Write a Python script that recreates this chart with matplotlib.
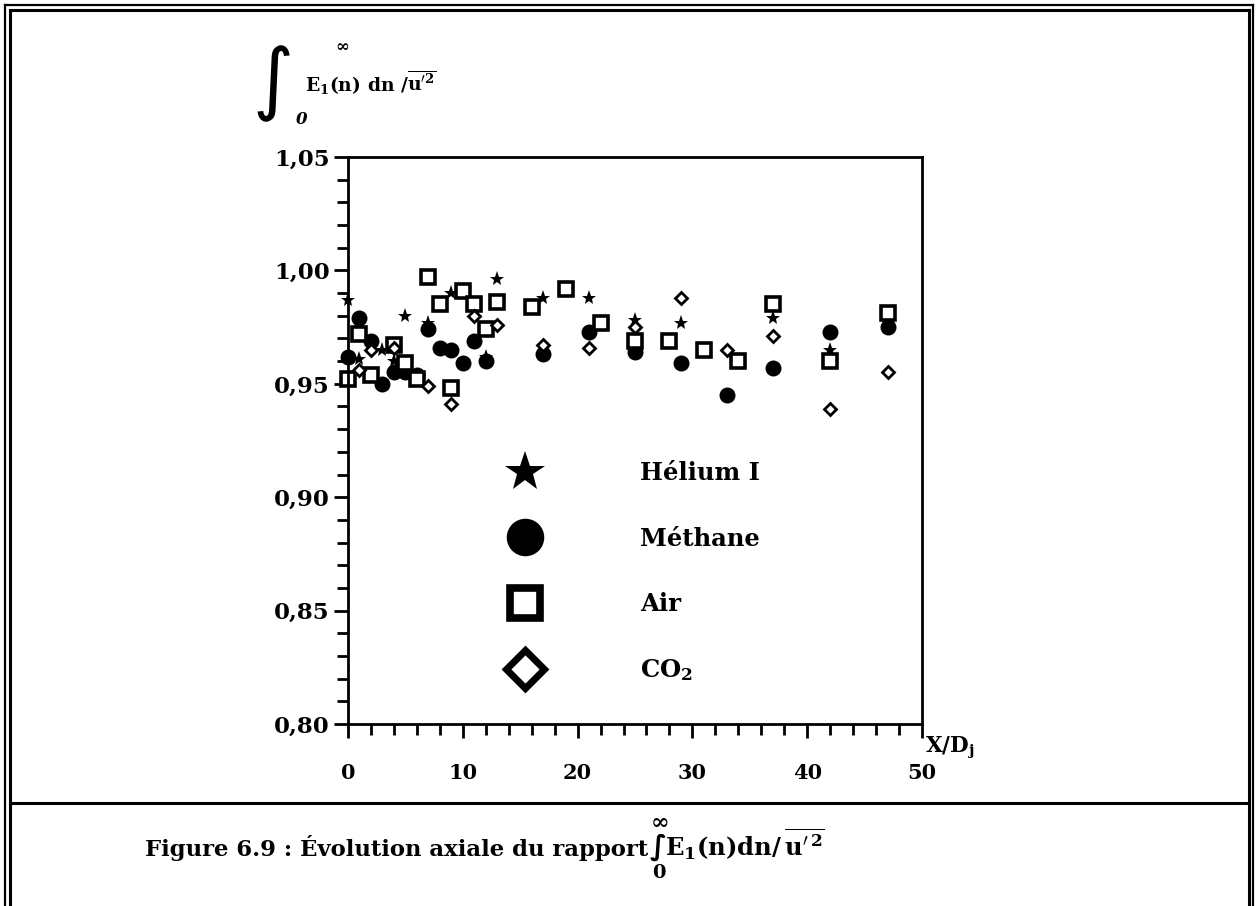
import matplotlib
matplotlib.use("Agg")
import matplotlib.pyplot as plt
from matplotlib.lines import Line2D
from matplotlib.ticker import MultipleLocator, FixedFormatter, FixedLocator

plt.rcParams['font.family'] = ['DejaVu Serif']
plt.rcParams['font.weight'] = 'bold'
plt.rcParams['mathtext.fontset'] = 'dejavuserif'
plt.rcParams['mathtext.default'] = 'bf'

# ---------------- data ----------------
helium_x = [0, 1, 3, 4, 5, 7, 9, 11, 12, 13, 17, 21, 25, 29, 37, 42]
helium_y = [0.987, 0.961, 0.965, 0.960, 0.980, 0.977, 0.990, 0.982, 0.962, 0.996,
            0.988, 0.988, 0.978, 0.977, 0.979, 0.965]

methane_x = [0, 1, 2, 3, 4, 5, 6, 7, 8, 9, 10, 11, 12, 17, 21, 25, 29, 33, 37, 42, 47]
methane_y = [0.962, 0.979, 0.969, 0.950, 0.955, 0.955, 0.954, 0.974, 0.966, 0.965,
             0.959, 0.969, 0.960, 0.963, 0.973, 0.964, 0.959, 0.945, 0.957, 0.973, 0.975]

air_x = [0, 1, 2, 4, 5, 6, 7, 8, 9, 10, 11, 12, 13, 16, 19, 22, 25, 28, 31, 34, 37, 42, 47]
air_y = [0.952, 0.972, 0.954, 0.967, 0.959, 0.952, 0.997, 0.985, 0.948, 0.991, 0.985,
         0.974, 0.986, 0.984, 0.992, 0.977, 0.969, 0.969, 0.965, 0.960, 0.985, 0.960, 0.981]

co2_x = [1, 2, 4, 7, 9, 11, 13, 17, 21, 25, 29, 33, 37, 42, 47]
co2_y = [0.956, 0.965, 0.966, 0.949, 0.941, 0.980, 0.976, 0.967, 0.966, 0.975,
         0.988, 0.965, 0.971, 0.939, 0.955]

series_labels = ["Hélium I", "Méthane", "Air", r"CO$_\mathbf{2}$"]
x_ticks = [0, 10, 20, 30, 40, 50]
x_tick_labels = ["0", "10", "20", "30", "40", "50"]
y_ticks = [0.80, 0.85, 0.90, 0.95, 1.00, 1.05]
y_tick_labels = ["0,80", "0,85", "0,90", "0,95", "1,00", "1,05"]

# ---------------- figure ----------------
W, H = 1258, 906
fig = plt.figure(figsize=(W / 100, H / 100), dpi=100)

def fx(px):
    return px / W

def fy(py):
    return 1 - py / H

ax = fig.add_axes([fx(348), fy(724), fx(922) - fx(348), fy(157) - fy(724)])
ax.set_xlim(0, 50)
ax.set_ylim(0.80, 1.05)

ax.plot(helium_x, helium_y, linestyle='none', marker='*', ms=11, color='black', mew=0, clip_on=False)
ax.plot(methane_x, methane_y, linestyle='none', marker='o', ms=11.5, color='black', mew=0, clip_on=False)
ax.plot(air_x, air_y, linestyle='none', marker='s', ms=9.5, mfc='white', mec='black', mew=2.6, clip_on=False)
ax.plot(co2_x, co2_y, linestyle='none', marker='D', ms=6.5, mfc='white', mec='black', mew=2.0, clip_on=False)

for s in ax.spines.values():
    s.set_linewidth(2)

ax.xaxis.set_major_locator(FixedLocator(x_ticks))
ax.xaxis.set_major_formatter(FixedFormatter(x_tick_labels))
ax.xaxis.set_minor_locator(MultipleLocator(2))
ax.yaxis.set_major_locator(FixedLocator(y_ticks))
ax.yaxis.set_major_formatter(FixedFormatter(y_tick_labels))
ax.yaxis.set_minor_locator(MultipleLocator(0.01))
ax.tick_params(axis='both', which='both', direction='out', width=2)
ax.tick_params(axis='x', which='major', length=10, pad=18, labelsize=15)
ax.tick_params(axis='x', which='minor', length=8)
ax.tick_params(axis='y', which='major', length=10, pad=3, labelsize=16.5)
ax.tick_params(axis='y', which='minor', length=8)
for lab in ax.get_xticklabels() + ax.get_yticklabels():
    lab.set_fontweight('bold')

# legend
handles = [
    Line2D([], [], linestyle='none', marker='*', ms=30, color='black', mew=0),
    Line2D([], [], linestyle='none', marker='o', ms=27, color='black', mew=0),
    Line2D([], [], linestyle='none', marker='s', ms=21, mfc='white', mec='black', mew=5.5),
    Line2D([], [], linestyle='none', marker='D', ms=19, mfc='white', mec='black', mew=5),
]
leg = ax.legend(handles, series_labels, loc='upper left', bbox_to_anchor=(0.288, 0.463),
                frameon=False, handlelength=1.0, handletextpad=4.23, labelspacing=1.70,
                borderpad=0, borderaxespad=0,
                prop={'family': 'DejaVu Serif', 'weight': 'bold', 'size': 17.5})

# axis labels
fig.text(fx(925), fy(752), r"X/D$_\mathbf{j}$", fontsize=15.5, fontweight='bold',
         ha='left', va='baseline')

# y label (integral expression)
fig.text(fx(294), fy(84), "∫", fontsize=57, fontfamily='DejaVu Sans', fontweight='normal',
         ha='right', va='center')
fig.text(fx(342), fy(46), r"$\infty$", fontsize=12, ha='center', va='center')
fig.text(fx(296), fy(119), "0", fontsize=12, fontstyle='italic', fontweight='bold',
         ha='left', va='center')
fig.text(fx(305), fy(92), r"E$_\mathbf{1}$(n) dn /$\overline{\mathbf{u}^{\prime 2}}$",
         fontsize=13.5, fontweight='bold', ha='left', va='baseline')

# frame / borders
for off, lw in [(5, 1.6), (9.5, 2.2)]:
    fig.add_artist(Line2D([fx(off), fx(off)], [fy(off), 0], transform=fig.transFigure,
                          color='black', lw=lw))
    fig.add_artist(Line2D([fx(W - off), fx(W - off)], [fy(off), 0], transform=fig.transFigure,
                          color='black', lw=lw))
    fig.add_artist(Line2D([fx(off), fx(W - off)], [fy(off), fy(off)], transform=fig.transFigure,
                          color='black', lw=lw))
fig.add_artist(Line2D([fx(10), fx(W - 10)], [fy(803), fy(803)], transform=fig.transFigure,
                      color='black', lw=2.2))

# caption
cap_y = fy(856)
fig.text(fx(648), cap_y, "Figure 6.9 : Évolution axiale du rapport", fontsize=16.4,
         fontweight='bold', ha='right', va='baseline')
fig.text(fx(658), fy(847), "∫", fontsize=20, fontfamily='DejaVu Sans', ha='center', va='center')
fig.text(fx(659), fy(821), r"$\infty$", fontsize=16, ha='center', va='center')
fig.text(fx(659), fy(873), "0", fontsize=14, fontweight='bold', ha='center', va='center')
fig.text(fx(665), cap_y, r"E$_\mathbf{1}$(n)dn/$\,\overline{\mathbf{u}^{\prime\,\mathbf{2}}}$",
         fontsize=17.5, fontweight='bold', ha='left', va='baseline')

fig.savefig("out.png", dpi=100)
